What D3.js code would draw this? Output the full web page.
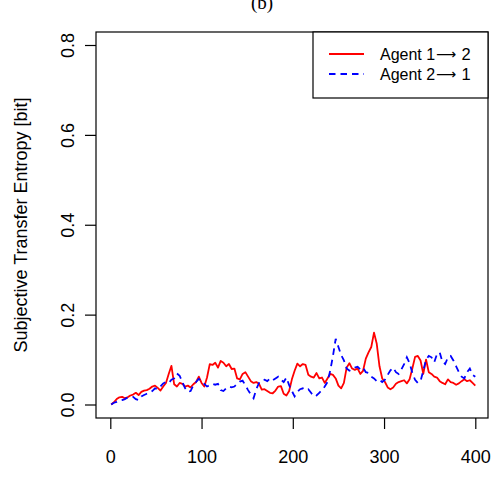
<!DOCTYPE html>
<html>
<head>
<meta charset="utf-8">
<script src="https://cdn.jsdelivr.net/npm/d3@7"></script>
<style>
  html, body { margin: 0; padding: 0; background: #fff; }
  svg { display: block; }
  .tick text { font-family: "Liberation Sans", Arial, sans-serif; }
</style>
</head>
<body>
<svg id="chart" width="494" height="491"></svg>
<script>
// Time steps (every third step from 1 to 400)
const steps = d3.range(1, 401, 3);

// Subjective transfer entropy, Agent 1 -> 2 [bit]
const te12 = [
  0.000, 0.005, 0.012, 0.016, 0.017, 0.014, 0.016, 0.020, 0.022, 0.026,
  0.021, 0.028, 0.031, 0.032, 0.035, 0.040, 0.042, 0.037, 0.031, 0.040,
  0.048, 0.068, 0.086, 0.045, 0.040, 0.048, 0.046, 0.040, 0.042, 0.038,
  0.045, 0.050, 0.062, 0.048, 0.040, 0.060, 0.090, 0.088, 0.093, 0.082,
  0.097, 0.093, 0.085, 0.090, 0.079, 0.080, 0.058, 0.056, 0.068, 0.072,
  0.062, 0.052, 0.048, 0.050, 0.046, 0.033, 0.034, 0.030, 0.026, 0.025,
  0.031, 0.040, 0.041, 0.024, 0.020, 0.030, 0.056, 0.075, 0.091, 0.085,
  0.090, 0.088, 0.066, 0.062, 0.060, 0.070, 0.058, 0.060, 0.048, 0.058,
  0.068, 0.066, 0.058, 0.042, 0.036, 0.048, 0.082, 0.092, 0.080, 0.077,
  0.080, 0.068, 0.075, 0.102, 0.116, 0.128, 0.160, 0.135, 0.085, 0.058,
  0.050, 0.038, 0.034, 0.038, 0.046, 0.050, 0.052, 0.054, 0.047, 0.056,
  0.080, 0.106, 0.108, 0.098, 0.068, 0.100, 0.072, 0.068, 0.062, 0.060,
  0.052, 0.048, 0.045, 0.056, 0.050, 0.048, 0.044, 0.047, 0.052, 0.056,
  0.052, 0.054, 0.048, 0.042
];

// Subjective transfer entropy, Agent 2 -> 1 [bit]
const te21 = [
  0.000, 0.004, 0.006, 0.009, 0.010, 0.012, 0.016, 0.017, 0.017, 0.012,
  0.010, 0.018, 0.021, 0.024, 0.026, 0.030, 0.036, 0.034, 0.040, 0.047,
  0.050, 0.048, 0.055, 0.058, 0.069, 0.064, 0.050, 0.036, 0.028, 0.030,
  0.043, 0.050, 0.057, 0.051, 0.046, 0.040, 0.043, 0.046, 0.044, 0.046,
  0.032, 0.030, 0.036, 0.040, 0.038, 0.040, 0.046, 0.051, 0.053, 0.043,
  0.032, 0.022, 0.014, 0.034, 0.048, 0.054, 0.055, 0.052, 0.058, 0.054,
  0.058, 0.062, 0.055, 0.050, 0.060, 0.043, 0.030, 0.018, 0.028, 0.034,
  0.036, 0.032, 0.034, 0.026, 0.018, 0.020, 0.026, 0.032, 0.040, 0.050,
  0.075, 0.108, 0.146, 0.128, 0.110, 0.098, 0.080, 0.075, 0.078, 0.082,
  0.084, 0.078, 0.082, 0.072, 0.070, 0.062, 0.058, 0.052, 0.055, 0.050,
  0.055, 0.066, 0.076, 0.082, 0.072, 0.068, 0.078, 0.090, 0.105, 0.092,
  0.070, 0.055, 0.048, 0.052, 0.075, 0.100, 0.108, 0.105, 0.094, 0.112,
  0.116, 0.095, 0.090, 0.105, 0.108, 0.098, 0.085, 0.072, 0.062, 0.058,
  0.072, 0.080, 0.066, 0.062
];

const xTicks = [0, 100, 200, 300, 400];
const yTicks = [0.0, 0.2, 0.4, 0.6, 0.8];
const yTickLabels = ["0.0", "0.2", "0.4", "0.6", "0.8"];
const seriesNames = ["Agent 1", "Agent 2"];
const seriesTargets = ["2", "1"];

const svg = d3.select("#chart");
const box = { left: 96, right: 488, top: 32, bottom: 418 };

const x = d3.scaleLinear().domain([0, 400]).range([110.3, 475.3]);
const y = d3.scaleLinear().domain([0, 0.8]).range([404.5, 45]);

const sans = "'Liberation Sans', Arial, Helvetica, sans-serif";

// Title
svg.append("text")
  .attr("x", 262).attr("y", 9)
  .attr("text-anchor", "middle")
  .attr("font-family", "'Liberation Serif', 'Times New Roman', serif")
  .attr("font-size", 19)
  .text("(b)");

// Series
const line = d3.line().x((d, i) => x(steps[i])).y(d => y(d));

svg.append("path")
  .datum(te12)
  .attr("d", line)
  .attr("fill", "none")
  .attr("stroke", "#ff0000")
  .attr("stroke-width", 1.8)
  .attr("stroke-linejoin", "round");

svg.append("path")
  .datum(te21)
  .attr("d", line)
  .attr("fill", "none")
  .attr("stroke", "#0000ff")
  .attr("stroke-width", 1.8)
  .attr("stroke-dasharray", "6.5,5");

// Plot frame
svg.append("rect")
  .attr("x", box.left).attr("y", box.top)
  .attr("width", box.right - box.left).attr("height", box.bottom - box.top)
  .attr("fill", "none").attr("stroke", "#000").attr("stroke-width", 1.2);

// x axis
const gx = svg.append("g")
  .attr("transform", `translate(0,${box.bottom})`)
  .call(d3.axisBottom(x).tickValues(xTicks).tickSize(11).tickPadding(0).tickFormat(d3.format("d")));
gx.select(".domain").remove();
gx.selectAll(".tick line").attr("stroke", "#000").attr("stroke-width", 1.2);
gx.selectAll(".tick text")
  .attr("y", 44.5).attr("dy", null)
  .attr("font-size", 18).attr("fill", "#000");

// y axis
const gy = svg.append("g")
  .attr("transform", `translate(${box.left},0)`)
  .call(d3.axisLeft(y).tickValues(yTicks).tickSize(11).tickFormat((d, i) => yTickLabels[i]));
gy.select(".domain").remove();
gy.selectAll(".tick line").attr("stroke", "#000").attr("stroke-width", 1.2);
gy.selectAll(".tick text")
  .attr("x", null).attr("dy", null)
  .attr("text-anchor", "middle")
  .attr("transform", "translate(-22,0) rotate(-90)")
  .attr("font-size", 18).attr("fill", "#000");

// y axis title
svg.append("text")
  .attr("transform", `translate(27,${(box.top + box.bottom) / 2}) rotate(-90)`)
  .attr("text-anchor", "middle")
  .attr("font-family", sans)
  .attr("font-size", 18)
  .text("Subjective Transfer Entropy [bit]");

// Legend
const lg = svg.append("g");
lg.append("rect")
  .attr("x", 313).attr("y", box.top)
  .attr("width", box.right - 313).attr("height", 66)
  .attr("fill", "#fff").attr("stroke", "#000").attr("stroke-width", 1.2);

const legendRows = [
  { color: "#ff0000", dash: null, yy: 54 },
  { color: "#0000ff", dash: "6.5,5", yy: 74 }
];
legendRows.forEach((r, i) => {
  lg.append("line")
    .attr("x1", 329).attr("x2", 364)
    .attr("y1", r.yy).attr("y2", r.yy)
    .attr("stroke", r.color).attr("stroke-width", 1.8)
    .attr("stroke-dasharray", r.dash);
  lg.append("text")
    .attr("x", 380).attr("y", r.yy + 6)
    .attr("font-family", sans).attr("font-size", 16)
    .text(seriesNames[i]);
  lg.append("text")
    .attr("x", 446).attr("y", r.yy + 5)
    .attr("text-anchor", "middle")
    .attr("font-family", "'DejaVu Sans', sans-serif").attr("font-size", 14)
    .text("\u27F6");
  lg.append("text")
    .attr("x", 461.5).attr("y", r.yy + 6)
    .attr("font-family", sans).attr("font-size", 16.5)
    .text(seriesTargets[i]);
});
</script>
</body>
</html>
